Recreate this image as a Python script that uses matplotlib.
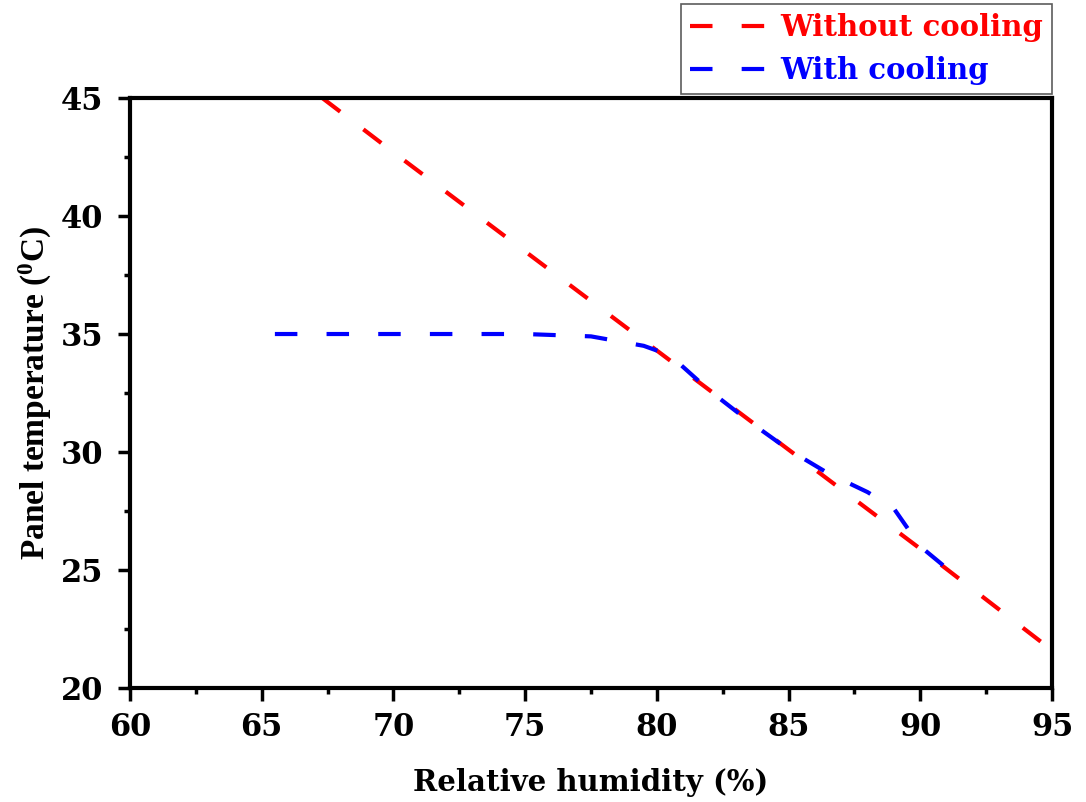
import numpy as np
import matplotlib
matplotlib.use("Agg")
import matplotlib.pyplot as plt
from matplotlib.ticker import MultipleLocator

# values
rh_nocool = [67.3, 70, 75, 80, 85, 90, 95]
temp_nocool = [45.0, 42.7, 38.5, 34.3, 30.1, 25.9, 21.6]

rh_cool = [65.5, 70, 75, 77.5, 79.5, 80.5, 82, 83.5, 85, 86.5, 88, 89, 90, 91.3]
temp_cool = [35.0, 35.0, 35.0, 34.9, 34.5, 34.1, 32.6, 31.3, 30.1, 29.1, 28.3, 27.6, 26.0, 24.8]

plt.rcParams['mathtext.default'] = 'regular'

fig = plt.figure(figsize=(10.86, 8.02), dpi=100)
ax = fig.add_axes([0.1197, 0.1421, 0.849, 0.7357])

dash = (5.4, 7.0)
ax.plot(rh_nocool, temp_nocool, color='#ff0000', lw=3, dashes=dash, label='Without cooling')
ax.plot(rh_cool, temp_cool, color='#0000ff', lw=3, dashes=dash, label='With cooling')

ax.set_xlim(60, 95)
ax.set_ylim(20, 45)
ax.xaxis.set_major_locator(MultipleLocator(5))
ax.xaxis.set_minor_locator(MultipleLocator(2.5))
ax.yaxis.set_major_locator(MultipleLocator(5))
ax.yaxis.set_minor_locator(MultipleLocator(2.5))

for s in ax.spines.values():
    s.set_linewidth(3)
ax.tick_params(which='major', direction='out', length=9, width=2.5, pad=8)
ax.tick_params(which='minor', direction='out', length=4, width=2.5)
ax.tick_params(axis='y', which='major', pad=10)

for lab in ax.get_xticklabels() + ax.get_yticklabels():
    lab.set_fontfamily('DejaVu Serif')
    lab.set_fontweight('bold')
    lab.set_fontsize(22)

ax.set_xlabel('Relative humidity (%)', family='DejaVu Serif', weight='bold', fontsize=21, labelpad=18)
ax.set_ylabel('Panel temperature ($^{0}$C)', family='Liberation Serif', weight='bold',
              fontsize=24, labelpad=5)

leg = fig.legend(loc='upper right', bbox_to_anchor=(0.9687, 0.995), bbox_transform=fig.transFigure,
                 borderaxespad=0, frameon=True, fancybox=False, handlelength=2.75,
                 handletextpad=0.35, labelspacing=0.5, borderpad=0.3,
                 prop={'family': 'DejaVu Serif', 'weight': 'bold', 'size': 21},
                 labelcolor='linecolor')
leg.get_frame().set_edgecolor('#333333')
leg.get_frame().set_linewidth(1.2)

fig.savefig('out.png', dpi=100)
